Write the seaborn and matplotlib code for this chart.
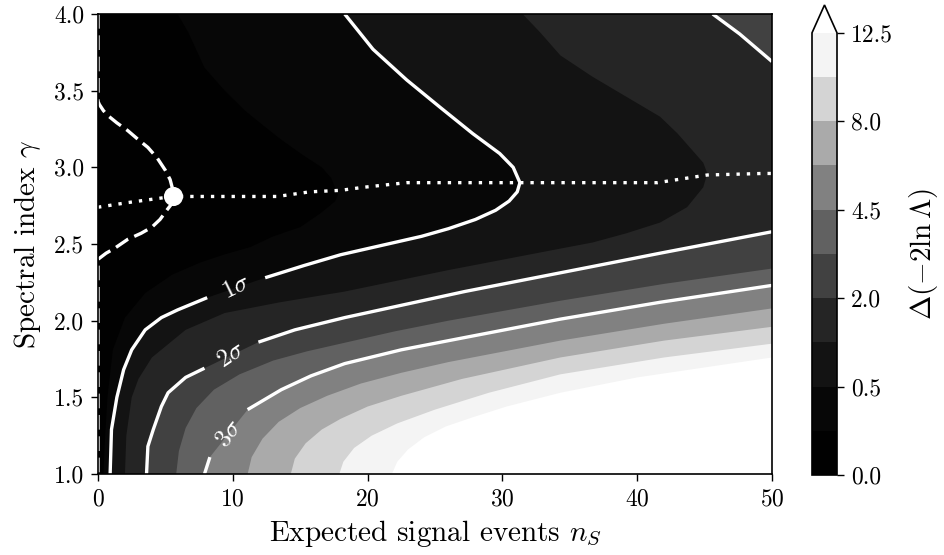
import numpy as np
import matplotlib
matplotlib.use("Agg")
import matplotlib as mpl
import matplotlib.pyplot as plt
from matplotlib.colors import ListedColormap, BoundaryNorm, Normalize
import seaborn as sns

# ---------------- data ----------------
levels = [0.0, 0.125, 0.5, 1.125, 2.0, 3.125, 4.5, 6.125, 8.0, 10.125, 12.5]
cbar_ticks = [0.0, 0.5, 2.0, 4.5, 8.0, 12.5]
sigma_labels = ["$1\\sigma$", "$2\\sigma$", "$3\\sigma$"]

# contour lines (n_S, gamma) of each level
c0125_ns = [5.9, 6.7, 7.9, 9.4, 10.9, 12.3, 13.6, 15.2, 16.6, 17.3, 17.8, 17.6, 17.2, 16.5, 15.0,
            13.0, 11.3, 9.3, 7.6, 5.5, 3.5, 2.0, 1.1, 0.7, 0.5, 0.4]
c0125_g = [4.0, 3.88, 3.65, 3.50, 3.37, 3.27, 3.18, 3.08, 3.00, 2.93, 2.82, 2.78, 2.75, 2.70, 2.61,
           2.55, 2.48, 2.43, 2.38, 2.30, 2.18, 2.02, 1.81, 1.50, 1.20, 1.0]

c05_ns = [18.3, 20.4, 22.9, 25.4, 27.8, 29.8, 30.8, 31.3, 31.1, 30.5, 29.5, 28.0, 26.0, 24.0, 22.0,
          20.0, 18.0, 15.3, 12.4, 8.1, 5.9, 4.7, 3.5, 2.5, 1.9, 1.4, 1.0, 0.9]
c05_g = [4.0, 3.77, 3.57, 3.39, 3.22, 3.09, 3.00, 2.90, 2.84, 2.78, 2.72, 2.66, 2.60, 2.55, 2.51,
         2.47, 2.43, 2.36, 2.28, 2.15, 2.07, 2.02, 1.94, 1.81, 1.68, 1.50, 1.29, 1.0]

c1125_ns = [31.5, 32.8, 34.3, 36.7, 39.2, 41.7, 43.0, 44.1, 44.9, 45.2, 44.9, 43.7, 41.7, 39.2, 36.7,
            34.3, 26.0, 18.3, 13.5, 9.4, 6.5, 4.0, 3.0, 2.5, 2.1, 2.0]
c1125_g = [4.0, 3.88, 3.73, 3.59, 3.46, 3.33, 3.22, 3.11, 3.03, 2.96, 2.87, 2.74, 2.64, 2.57, 2.51,
           2.47, 2.33, 2.19, 2.12, 2.05, 1.94, 1.76, 1.62, 1.50, 1.25, 1.0]

c2_low_ns = [3.6, 3.7, 4.1, 4.7, 5.2, 6.5, 7.9, 11.9, 14.6, 18.3, 27.2, 36.5, 41.7, 50.0]
c2_low_g = [1.0, 1.18, 1.29, 1.44, 1.53, 1.63, 1.69, 1.86, 1.94, 2.02, 2.19, 2.35, 2.44, 2.58]
c2_up_ns = [50.0, 47.6, 45.6]
c2_up_g = [3.69, 3.87, 4.0]

c3125_ns = [5.8, 6.0, 6.5, 7.3, 8.6, 10.5, 13.0, 15.5, 18.0, 22.0, 26.0, 34.3, 42.0, 50.0]
c3125_g = [1.0, 1.15, 1.3, 1.43, 1.55, 1.65, 1.74, 1.80, 1.85, 1.93, 2.0, 2.13, 2.24, 2.34]

c45_ns = [7.9, 8.3, 11.1, 13.6, 15.8, 18.3, 22.5, 27.2, 34.3, 41.7, 50.0]
c45_g = [1.0, 1.11, 1.42, 1.55, 1.64, 1.72, 1.81, 1.89, 2.01, 2.12, 2.23]

c6125_ns = [11.1, 11.4, 12.2, 13.4, 15.0, 17.0, 19.5, 22.5, 26.0, 34.3, 42.0, 50.0]
c6125_g = [1.0, 1.11, 1.23, 1.34, 1.43, 1.51, 1.59, 1.66, 1.73, 1.87, 1.98, 2.08]

c8_ns = [14.3, 14.6, 15.4, 16.6, 18.0, 20.0, 22.5, 27.0, 34.3, 42.0, 50.0]
c8_g = [1.0, 1.1, 1.2, 1.29, 1.36, 1.44, 1.51, 1.62, 1.76, 1.87, 1.96]

c10125_ns = [17.9, 18.2, 19.0, 20.3, 22.2, 25.0, 29.0, 34.3, 42.0, 50.0]
c10125_g = [1.0, 1.08, 1.17, 1.25, 1.33, 1.42, 1.53, 1.65, 1.76, 1.85]

c125_ns = [21.8, 22.2, 23.0, 24.2, 25.8, 27.8, 30.3, 34.3, 40.0, 50.0]
c125_g = [1.0, 1.08, 1.16, 1.24, 1.31, 1.37, 1.44, 1.53, 1.63, 1.76]

# profile lines: best gamma for each n_S (dotted), best n_S for each gamma (dashed)
prof_g_ns = [0.0, 2.2, 4.7, 5.6, 8.0, 10.0, 13.3, 15.7, 18.0, 19.7, 22.9, 26.0, 31.3, 36.5, 41.5, 45.2, 49.3, 50.0]
prof_g_g = [2.74, 2.77, 2.80, 2.81, 2.81, 2.81, 2.81, 2.84, 2.85, 2.87, 2.90, 2.90, 2.90, 2.90, 2.90, 2.95, 2.96, 2.96]

prof_ns_ns = [0.0, 0.0, 0.1, 0.4, 0.7, 1.4, 2.2, 3.0, 3.7, 4.4, 5.0, 5.35, 5.5, 5.6, 5.45, 5.1, 4.6,
              4.0, 3.2, 2.2, 1.7, 1.2, 0.6, 0.15, 0.0, 0.0]
prof_ns_g = [4.0, 3.43, 3.41, 3.37, 3.34, 3.29, 3.24, 3.18, 3.13, 3.06, 2.98, 2.92, 2.87, 2.81, 2.76,
             2.72, 2.66, 2.61, 2.57, 2.53, 2.50, 2.47, 2.44, 2.41, 2.40, 1.0]

best_ns = [5.6]
best_g = [2.81]

xlim = (0, 50)
ylim = (1.0, 4.0)

# ---------------- style ----------------
sns.set_theme(style="ticks")
plt.rcParams.update({
    "font.family": "serif",
    "font.serif": ["cmr10"],
    "mathtext.fontset": "cm",
    "axes.formatter.use_mathtext": True,
    "axes.unicode_minus": False,
    "axes.edgecolor": "black",
    "axes.labelcolor": "black",
    "text.color": "black",
    "xtick.color": "black",
    "ytick.color": "black",
    "axes.linewidth": 1.2,
})

fig = plt.figure(figsize=(9.45, 5.55), dpi=100)
ax = fig.add_axes([98 / 945, 81 / 555, 674 / 945, 460 / 555])
cax = fig.add_axes([812 / 945, 80 / 555, 25 / 945, 470 / 555])

# colours of the filled bands (Greys_r at the layer mid-values)
base = plt.get_cmap("Greys_r")
lnorm = Normalize(levels[0], levels[-1])
mids = [(a + b) / 2 for a, b in zip(levels[:-1], levels[1:])]
band_cols = [base(lnorm(m)) for m in mids]
over_col = base(1.0)

ax.set_facecolor(over_col)
ax.set_xlim(*xlim)
ax.set_ylim(*ylim)


def closed_region(pieces):
    xs = np.concatenate([np.asarray(p[0], float) for p in pieces])
    ys = np.concatenate([np.asarray(p[1], float) for p in pieces])
    ly = ys[-1]
    x0, x1 = xlim
    y0, y1 = ylim
    if np.isclose(ly, y0):
        cx, cy = [x0, x0], [y0, y1]
    elif np.isclose(ly, y1):
        cx, cy = [x0, x0], [y1, y0]
    else:
        cx, cy = [x1, x0, x0], [y1, y1, y0]
    return np.concatenate([xs, cx]), np.concatenate([ys, cy])


region_pieces = [
    [(c0125_ns, c0125_g)],
    [(c05_ns, c05_g)],
    [(c1125_ns, c1125_g)],
    [(c2_low_ns, c2_low_g), (c2_up_ns, c2_up_g)],
    [(c3125_ns, c3125_g)],
    [(c45_ns, c45_g)],
    [(c6125_ns, c6125_g)],
    [(c8_ns, c8_g)],
    [(c10125_ns, c10125_g)],
    [(c125_ns, c125_g)],
]

# paint from the highest level downward: region below level k gets band k-1 colour
for k in range(len(region_pieces) - 1, -1, -1):
    px, py = closed_region(region_pieces[k])
    ax.fill(px, py, color=band_cols[k], lw=0, zorder=1)

# white sigma contours with inline labels
line_kw = dict(color="white", lw=2.4, solid_capstyle="butt", solid_joinstyle="round", zorder=3)


def labelled_line(ns, g, gap_start, gap_end, text, angle):
    ns = np.asarray(ns)
    g = np.asarray(g)
    ax.plot(ns[: gap_start + 1], g[: gap_start + 1], **line_kw)
    ax.plot(ns[gap_end:], g[gap_end:], **line_kw)
    p1 = ax.transData.transform((ns[gap_start], g[gap_start]))
    p2 = ax.transData.transform((ns[gap_end], g[gap_end]))
    mid = ax.transData.inverted().transform((p1 + p2) / 2)
    ax.text(mid[0], mid[1], text, color="white", fontsize=18, rotation=angle,
            ha="center", va="center", rotation_mode="anchor", zorder=4)


labelled_line(c05_ns, c05_g, 18, 19, sigma_labels[0], 26)
labelled_line(c2_low_ns, c2_low_g, 6, 7, sigma_labels[1], 34)
ax.plot(c2_up_ns, c2_up_g, **line_kw)
labelled_line(c45_ns, c45_g, 1, 2, sigma_labels[2], 52)

# profile lines and best fit
sns.lineplot(x=prof_g_ns, y=prof_g_g, sort=False, estimator=None, ax=ax,
             color="white", lw=2.4, linestyle=(0, (1.0, 2.1)), zorder=4)
sns.lineplot(x=prof_ns_ns, y=prof_ns_g, sort=False, estimator=None, ax=ax,
             color="white", lw=2.4, linestyle=(0, (4.4, 2.0)), zorder=4)
sns.scatterplot(x=best_ns, y=best_g, ax=ax, s=190, color="white",
                edgecolor="white", linewidth=0, zorder=5)

ax.set_xlim(*xlim)
ax.set_ylim(*ylim)
ax.set_xticks([0, 10, 20, 30, 40, 50])
yt = [1.0, 1.5, 2.0, 2.5, 3.0, 3.5, 4.0]
ax.set_yticks(yt)
ax.set_yticklabels([f"{v:.1f}" for v in yt])
ax.tick_params(direction="out", length=5, width=1.0, labelsize=17, pad=5)
ax.set_xlabel("Expected signal events $n_S$", fontsize=21, labelpad=6)
ax.set_ylabel("Spectral index $\\gamma$", fontsize=21, labelpad=8)
for sp in ax.spines.values():
    sp.set_visible(True)
    sp.set_zorder(6)

# colour bar
lcmap = ListedColormap(band_cols)
lcmap.set_over(over_col)
bnorm = BoundaryNorm(levels, ncolors=len(band_cols))
sm = mpl.cm.ScalarMappable(norm=bnorm, cmap=lcmap)
cb = fig.colorbar(sm, cax=cax, extend="max", extendfrac=0.063,
                  spacing="uniform", ticks=cbar_ticks)
cb.minorticks_off()
cb.set_ticklabels([f"{t:.1f}" for t in cbar_ticks])
cb.outline.set_linewidth(1.2)
cb.ax.tick_params(which="both", direction="out", length=5, width=1.0, labelsize=17, pad=5)
cb.ax.tick_params(which="minor", length=0)
cb.set_label("$\\Delta(-2\\ln\\Lambda)$", fontsize=21, labelpad=10)

fig.savefig("out.png", dpi=100)
